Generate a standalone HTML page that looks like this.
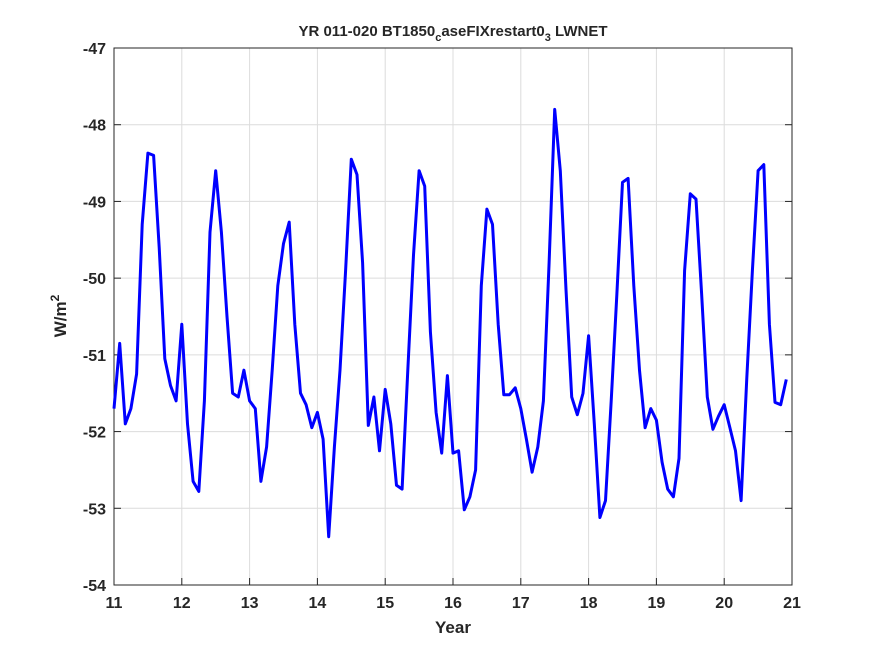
<!DOCTYPE html>
<html><head><style>
body{margin:0;background:#fff;}
svg{display:block;font-family:"Liberation Sans",sans-serif;font-weight:bold;}
</style></head><body>
<svg width="875" height="656">
<rect width="875" height="656" fill="#fff"/>
<g id="grid"></g>
<rect x="114" y="48" width="678" height="537" fill="none" stroke="#262626" stroke-width="1"/>
<g id="ticks"></g>
<polyline id="line" fill="none" stroke="#0000ff" stroke-width="3" stroke-linejoin="round"/>
<text x="453" y="36" text-anchor="middle" font-size="15" fill="#262626">YR 011-020 BT1850<tspan font-size="11" dy="5">c</tspan><tspan dy="-5">aseFIXrestart0</tspan><tspan font-size="11" dy="5">3</tspan><tspan dy="-5"> LWNET</tspan></text>
<text x="453" y="633" text-anchor="middle" font-size="17" fill="#262626">Year</text>
<text transform="translate(66,316) rotate(-90)" text-anchor="middle" font-size="17" fill="#262626">W/m<tspan font-size="12" dy="-7">2</tspan></text>
</svg>
<script>
const xTicks=[11,12,13,14,15,16,17,18,19,20,21];
const yTicks=[-47,-48,-49,-50,-51,-52,-53,-54];
const startYear=11;
const values=[
-51.7,-50.85,-51.9,-51.7,-51.25,-49.3,-48.37,-48.4,-49.6,-51.05,-51.4,-51.6,
-50.6,-51.9,-52.65,-52.78,-51.6,-49.4,-48.6,-49.4,-50.5,-51.5,-51.55,-51.2,
-51.6,-51.7,-52.65,-52.2,-51.2,-50.1,-49.55,-49.27,-50.6,-51.5,-51.65,-51.95,
-51.75,-52.1,-53.37,-52.2,-51.2,-49.9,-48.45,-48.65,-49.8,-51.92,-51.55,-52.25,
-51.45,-51.9,-52.7,-52.75,-51.2,-49.7,-48.6,-48.8,-50.7,-51.75,-52.28,-51.27,
-52.28,-52.25,-53.02,-52.85,-52.5,-50.1,-49.1,-49.3,-50.6,-51.52,-51.52,-51.43,
-51.7,-52.1,-52.53,-52.2,-51.6,-49.8,-47.8,-48.6,-50.15,-51.55,-51.78,-51.5,
-50.75,-51.9,-53.12,-52.9,-51.6,-50.2,-48.75,-48.7,-50.1,-51.2,-51.95,-51.7,
-51.85,-52.4,-52.75,-52.85,-52.35,-49.9,-48.9,-48.97,-50.2,-51.55,-51.97,-51.8,
-51.65,-51.95,-52.25,-52.9,-51.3,-49.9,-48.6,-48.52,-50.6,-51.62,-51.65,-51.32];
const X=v=>114+(v-11)/10*678;
const Y=v=>48+(-47-v)/7*537;
const NS='http://www.w3.org/2000/svg';
const grid=document.getElementById('grid'),ticks=document.getElementById('ticks');
function mk(tag,attrs,parent){const e=document.createElementNS(NS,tag);for(const k in attrs)e.setAttribute(k,attrs[k]);parent.appendChild(e);return e;}
xTicks.forEach(t=>{
 const g=mk('line',{x1:X(t),x2:X(t),y1:48,y2:585,stroke:'#dcdcdc'},grid);
 
 
 const tk=mk('line',{x1:X(t),x2:X(t),y1:585,y2:578,stroke:'#262626'},ticks);
 
 
 const l=mk('text',{x:X(t),y:608,'text-anchor':'middle','font-size':16,fill:'#262626'},ticks);
 l.textContent=t;
 
 
});
yTicks.forEach(t=>{
 const g=mk('line',{x1:114,x2:792,y1:Y(t),y2:Y(t),stroke:'#dcdcdc'},grid);
 
 
 const tk=mk('line',{x1:114,x2:121,y1:Y(t),y2:Y(t),stroke:'#262626'},ticks);
 
 
 const tk2=mk('line',{x1:785,x2:792,y1:Y(t),y2:Y(t),stroke:'#262626'},ticks);
 
 
 const l=mk('text',{x:106,y:Y(t)+6,'text-anchor':'end','font-size':16,fill:'#262626'},ticks);
 l.textContent=t;
 
 
});
document.getElementById('line').setAttribute('points',values.map((v,i)=>X(startYear+i/12).toFixed(1)+','+Y(v).toFixed(1)).join(' '));
</script>
</body></html>
